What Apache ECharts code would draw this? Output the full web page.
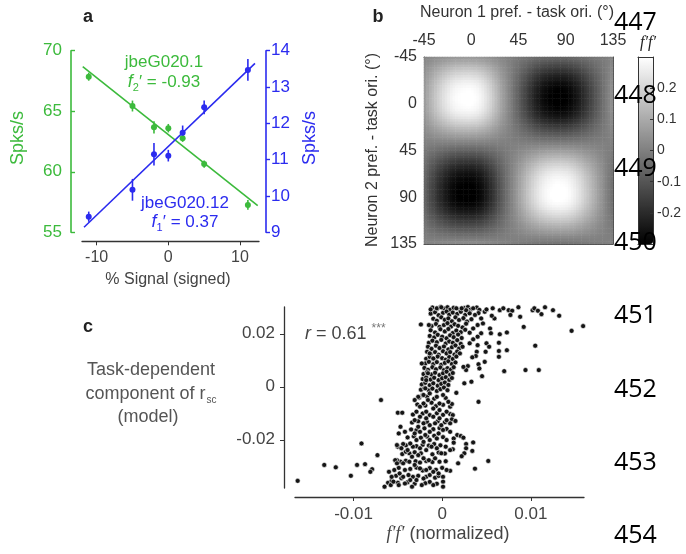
<!DOCTYPE html>
<html><head><meta charset="utf-8">
<script src="https://cdn.jsdelivr.net/npm/echarts@6/dist/echarts.min.js"></script>
<style>html,body{margin:0;padding:0;background:#fff}#c{width:686px;height:554px}</style>
</head><body><div id="c"></div>
<script>
// ---------- Panel a ----------
const signal = [-11.1, -5, -2, 0, 2, 5, 11.1];
const greenRate = [67.85, 65.43, 63.67, 63.6, 62.77, 60.64, 57.26];
const greenErr = [0.33, 0.45, 0.5, 0.35, 0.3, 0.3, 0.4];
const blueRate = [9.43, 10.17, 11.15, 11.11, 11.74, 12.44, 13.47];
const blueErr = [0.14, 0.3, 0.31, 0.16, 0.2, 0.19, 0.3];
const greenFit = [[-11.94, 68.68], [12.47, 57.2]];
const blueFit = [[-11.76, 9.14], [12.09, 13.65]];
const signalTicks = [-10, 0, 10];

// ---------- Panel b ----------
const cellCenters = [-43.75,-41.25,-38.75,-36.25,-33.75,-31.25,-28.75,-26.25,-23.75,-21.25,-18.75,-16.25,-13.75,-11.25,-8.75,-6.25,-3.75,-1.25,
  1.25,3.75,6.25,8.75,11.25,13.75,16.25,18.75,21.25,23.75,26.25,28.75,31.25,33.75,36.25,38.75,41.25,43.75,
  46.25,48.75,51.25,53.75,56.25,58.75,61.25,63.75,66.25,68.75,71.25,73.75,76.25,78.75,81.25,83.75,86.25,88.75,
  91.25,93.75,96.25,98.75,101.25,103.75,106.25,108.75,111.25,113.75,116.25,118.75,121.25,123.75,126.25,128.75,131.25,133.75];
// f' profile of each neuron read along the map (neuron 1 = columns, neuron 2 = rows)
const fPrime1 = [0.125,0.175,0.22,0.26,0.30,0.34,0.375,0.41,0.44,0.47,0.495,0.515,0.53,0.54,0.548,0.552,0.555,0.555,
  0.55,0.54,0.525,0.505,0.475,0.44,0.40,0.36,0.315,0.265,0.215,0.165,0.118,0.073,0.028,-0.018,-0.063,-0.108,
  -0.153,-0.198,-0.24,-0.285,-0.325,-0.365,-0.40,-0.435,-0.465,-0.49,-0.512,-0.528,-0.54,-0.55,-0.555,-0.555,-0.553,-0.548,
  -0.538,-0.522,-0.50,-0.473,-0.443,-0.41,-0.373,-0.335,-0.297,-0.26,-0.22,-0.18,-0.14,-0.10,-0.06,-0.02,0.02,0.06];
const fPrime2 = [0.12,0.16,0.20,0.25,0.29,0.33,0.37,0.405,0.44,0.47,0.495,0.515,0.53,0.54,0.548,0.553,0.553,0.548,
  0.54,0.53,0.515,0.49,0.465,0.43,0.39,0.35,0.305,0.26,0.218,0.173,0.128,0.083,0.038,-0.008,-0.053,-0.098,
  -0.143,-0.188,-0.23,-0.275,-0.315,-0.355,-0.39,-0.425,-0.455,-0.48,-0.502,-0.518,-0.53,-0.54,-0.548,-0.553,-0.555,-0.555,
  -0.55,-0.54,-0.523,-0.502,-0.473,-0.44,-0.403,-0.365,-0.325,-0.285,-0.243,-0.20,-0.16,-0.12,-0.08,-0.04,0.00,0.04];
const oriTicks = [-45, 0, 45, 90, 135];
const cbarTicks = [-0.2, -0.1, 0, 0.1, 0.2];

// ---------- Panel c ----------
const ffBand = [
 [-.0011,.0299],[-.0006,.0293],[-.0002,.0301],[.0002,.0295],[.0006,.0300],[.0009,.0291],[.0013,.0298],[.0018,.0302],[.0020,.0290],[.0025,.0297],[.0029,.0301],[.0032,.0291],[.0039,.0299],[.0042,.0290],
 [-.0013,.0276],[-.0008,.0281],[-.0004,.0270],[.0001,.0279],[.0005,.0284],[.0008,.0272],[.0012,.0280],[.0017,.0275],[.0021,.0283],[.0026,.0271],[.0030,.0282],[.0041,.0278],[.0048,.0283],
 [-.0010,.0257],[-.0006,.0249],[-.0001,.0262],[.0003,.0253],[.0007,.0258],[.0011,.0247],[.0015,.0262],[.0019,.0252],[.0024,.0259],[.0028,.0246],[.0033,.0255],
 [-.0012,.0229],[-.0007,.0237],[-.0003,.0226],[.0002,.0233],[.0006,.0240],[.0010,.0227],[.0014,.0236],[.0018,.0230],[.0023,.0224],[.0027,.0238],
 [-.0013,.0213],[-.0008,.0205],[-.0002,.0217],[.0003,.0209],[.0007,.0218],[.0012,.0203],[.0016,.0212],[.0021,.0206],[.0026,.0215],
 [-.0014,.0192],[-.0009,.0186],[-.0005,.0196],[.0000,.0189],[.0005,.0183],[.0009,.0194],[.0013,.0187],[.0018,.0197],[.0022,.0184],
 [-.0015,.0166],[-.0011,.0174],[-.0006,.0168],[-.0001,.0177],[.0004,.0163],[.0008,.0171],[.0012,.0166],[.0017,.0176],[.0021,.0162],
 [-.0016,.0151],[-.0012,.0143],[-.0007,.0155],[-.0003,.0146],[.0002,.0152],[.0007,.0141],[.0011,.0149],[.0015,.0156],[.0019,.0144],
 [-.0017,.0132],[-.0013,.0124],[-.0008,.0131],[-.0004,.0121],[.0001,.0134],[.0005,.0126],[.0009,.0131],[.0014,.0122],[.0017,.0133],
 [-.0018,.0106],[-.0014,.0113],[-.0009,.0104],[-.0005,.0114],[.0000,.0108],[.0004,.0102],[.0008,.0112],[.0012,.0105],[.0016,.0114],
 [-.0019,.0088],[-.0015,.0094],[-.0010,.0085],[-.0006,.0093],[-.0001,.0083],[.0003,.0090],[.0007,.0096],[.0011,.0086],[.0015,.0092],
 [-.0020,.0071],[-.0016,.0064],[-.0011,.0074],[-.0007,.0066],[-.0002,.0073],[.0002,.0063],[.0006,.0070],[.0010,.0065],[.0013,.0074],
 [-.0021,.0048],[-.0017,.0055],[-.0012,.0046],[-.0008,.0053],[-.0003,.0044],[.0001,.0051],[.0005,.0057],[.0009,.0045],[.0012,.0052],
 [-.0022,.0029],[-.0018,.0035],[-.0013,.0027],[-.0009,.0034],[-.0004,.0025],[.0000,.0032],[.0004,.0036],[.0008,.0026],[.0011,.0033],
 [-.0023,.0009],[-.0019,.0015],[-.0014,.0006],[-.0010,.0013],[-.0005,.0004],[-.0001,.0011],[.0003,.0016],[.0007,.0007],
 [-.0024,-.0011],[-.0020,-.0005],[-.0015,-.0014],[-.0011,-.0007],[-.0006,-.0016],[-.0002,-.0009],[.0002,-.0003],[.0006,-.0013],
 [-.0026,-.0041],[-.0017,-.0037],[-.0009,-.0045],[.0004,-.0042],
 [-.0028,-.0067],[-.0019,-.0071],[-.0012,-.0060],[-.0007,-.0073],[.0001,-.0068],[.0009,-.0075],
 [-.0033,-.0105],[-.0022,-.0101],[-.0014,-.0107],[-.0006,-.0100],[.0001,-.0106],[.0009,-.0103],
 [-.0034,-.0135],[-.0027,-.0130],[-.0017,-.0133],[-.0005,-.0130],[.0003,-.0134],
 [-.0035,-.0161],[-.0029,-.0164],[-.0020,-.0157],[-.0010,-.0160],[-.0003,-.0156],[.0005,-.0159],
 [-.0039,-.0191],[-.0032,-.0187],[-.0024,-.0192],[-.0017,-.0188],[-.0009,-.0185],[.0001,-.0190],
 [-.0041,-.0221],[-.0029,-.0224],[-.0022,-.0219],[-.0015,-.0222],[-.0009,-.0216],[-.0002,-.0221],[.0004,-.0226],
 [-.0045,-.0254],[-.0037,-.0251],[-.0031,-.0247],[-.0024,-.0251],[-.0011,-.0255],[-.0004,-.0248],[.0003,-.0252],
 [-.0047,-.0283],[-.0041,-.0279],[-.0030,-.0281],[-.0025,-.0286],[-.0018,-.0280],[-.0011,-.0284],[.0004,-.0281],
 [-.0049,-.0306],[-.0036,-.0310],[-.0029,-.0305],[-.0022,-.0316],[-.0014,-.0307],[-.0007,-.0313],[.0000,-.0306],
 [-.0052,-.0336],[-.0046,-.0345],[-.0033,-.0340],[-.0027,-.0336],[-.0018,-.0340],[-.0008,-.0343],[-.0004,-.0336],
 [-.0050,-.0362],[-.0039,-.0360],[-.0031,-.0366],[-.0019,-.0364],[-.0014,-.0359],[-.0006,-.0366]
];
const ffPoints = [
 [.0045,.0302],[.0050,.0292],[.0057,.0296],[.0065,.0289],[.0069,.0296],[.0075,.0289],[.0079,.0287],[.0086,.0300],[.0102,.0289],[.0104,.0296],[.0108,.0287],[.0112,.0274],[.0116,.0300],[.0125,.0289],[.0132,.0268],[.0088,.0264],[.0077,.0271],[.0059,.0258],[.0056,.0268],[.0092,.0226],[.0146,.0211],[.0159,.0229],[.0054,.0220],[.0055,.0202],[.0065,.0198],[.0073,.0205],[.0105,.0155],[.0064,.0166],[.0050,.0164],[.0053,.0151],[.0049,.0132],[.0064,.0135],[.0073,.0138],[.0040,.0157],[.0039,.0132],[.0038,.0116],[.0034,.0111],[.0048,.0094],[.0064,.0113],[.0041,.0085],[.0042,.0069],[.0045,.0040],[.0070,.0059],[.0094,.0063],[.0109,.0063],[.0033,.0019],[.0025,.0013],[.0016,-.0023],[.0029,.0078],[.0027,.0063],[.0024,.0075],[.0020,.0126],[.0023,.0151],[.0031,.0164],[.0035,.0179],[.0040,.0189],[.0044,.0202],[.0031,.0204],[.0035,.0220],[.0040,.0233],[.0046,.0239],[.0044,.0258],[.0037,.0271],[.0031,.0277],[.0027,.0289],[.0035,.0296],[.0022,.0296],[.0016,.0296],
 [-.0024,.0235],[-.0015,.0233],[-.0023,.0088],[-.0013,.0292],[-.0006,.0296],[-.0001,.0300],[-.0014,.0126],[-.0010,.0107],[-.0016,.0051],[-.0018,.0025],[-.0019,-.0006],[-.0022,-.0031],[-.0027,-.0038],
 [.0041,-.0057],[.0011,-.0065],[.0012,-.0107],[.0011,-.0123],[.0015,-.0129],[.0009,-.0138],[.0017,-.0182],[.0021,-.0186],[.0024,-.0192],[.0013,-.0195],[.0013,-.0211],[.0027,-.0216],[.0035,-.0210],[.0027,-.0232],[.0012,-.0236],[.0034,-.0242],[.0025,-.0251],[.0022,-.0262],[.0052,-.0280],[.0018,-.0289],[.0037,-.0309],[.0009,-.0317],
 [-.0069,-.0050],[-.0091,-.0214],[-.0073,-.0258],[-.0133,-.0295],[-.0120,-.0304],[-.0096,-.0295],[-.0087,-.0292],[-.0079,-.0311],[-.0081,-.0321],[-.0103,-.0336],[-.0163,-.0355],[-.0060,-.0321],[-.0061,-.0362],[-.0065,-.0377],[-.0057,-.0355],[-.0058,-.0371],[-.0050,-.0098],[-.0049,-.0176],[-.0050,-.0226],[-.0051,-.0277],
 [-.0045,-.0098],[-.0047,-.0151],[-.0042,-.0170],[-.0051,-.0220],[-.0044,-.0216],[-.0046,-.0232],[-.0041,-.0245],[-.0053,-.0277],[-.0051,-.0289],[-.0044,-.0289],[-.0054,-.0314],[-.0048,-.0327],[-.0042,-.0314],[-.0038,-.0333],[-.0044,-.0340],[-.0057,-.0340],[-.0055,-.0358],[-.0049,-.0371],[-.0042,-.0365],[-.0036,-.0352],[-.0034,-.0377],[-.0029,-.0352],[-.0023,-.0371],[-.0021,-.0346],[-.0010,-.0371],[-.0014,-.0333],[-.0031,-.0295],[-.0025,-.0308],[-.0018,-.0314],[-.0010,-.0321],[-.0004,-.0327],[.0001,-.0340],[.0001,-.0358],[.0001,-.0377],[.0005,-.0314],[-.0037,-.0283],[-.0034,-.0264],[-.0027,-.0258],[-.0021,-.0270],[-.0015,-.0277],[-.0008,-.0270],[-.0003,-.0283],[-.0039,-.0239],[-.0033,-.0226],[-.0025,-.0232],[-.0018,-.0239],[-.0012,-.0226],[-.0006,-.0232],[-.0001,-.0251],[.0009,-.0239],[-.0036,-.0214],[-.0029,-.0201],[-.0021,-.0208],[-.0014,-.0201],[-.0006,-.0195],[.0005,-.0201],[-.0031,-.0176],[-.0025,-.0170],[-.0019,-.0182],[-.0014,-.0170],[-.0004,-.0176],[.0001,-.0163],[.0009,-.0170],[-.0027,-.0151],[-.0021,-.0138],[-.0014,-.0145],[-.0008,-.0138],[-.0001,-.0145],[-.0031,-.0126],[-.0025,-.0113],[-.0018,-.0119],[-.0010,-.0113],[-.0003,-.0119],[.0005,-.0126],[-.0025,-.0075],[-.0021,-.0063],[-.0016,-.0050],[-.0029,-.0094],[-.0018,-.0094],[-.0010,-.0082],[-.0003,-.0088],[.0005,-.0094],[-.0031,-.0050],[-.0021,-.0031],[-.0014,-.0025],[-.0006,-.0038],[.0001,-.0031],[.0007,-.0057],[-.0003,-.0063]
];
const ffTicks = [-0.01, 0, 0.01];
const rscTicks = [-0.02, 0, 0.02];
const lineNumbers = ['447','448','449','450','451','452','453','454'];

// ---------- build ----------
const GREEN = '#3cba3c', BLUE = '#2b2bef', FONT = 'Liberation Sans';
const heatData = [];
for (let i = 0; i < cellCenters.length; i++)
  for (let j = 0; j < cellCenters.length; j++)
    heatData.push([i, j, +(fPrime1[i] * fPrime2[j]).toFixed(4)]);
const scatterData = ffBand.concat(ffPoints);

function errSeries(yArr, eArr, color, yIdx) {
  return {
    type: 'custom', xAxisIndex: 0, yAxisIndex: yIdx, silent: true, z: 3,
    data: signal.map((x, i) => [x, yArr[i] - eArr[i], yArr[i] + eArr[i]]),
    encode: { x: 0, y: [1, 2] },
    renderItem: (p, api) => {
      const a = api.coord([api.value(0), api.value(1)]);
      const b = api.coord([api.value(0), api.value(2)]);
      return { type: 'line', shape: { x1: a[0], y1: a[1], x2: b[0], y2: b[1] }, style: { stroke: color, lineWidth: 1.6 } };
    }
  };
}
const noSplit = { show: false };
function frameAxis(grid, pos, extra) {
  return Object.assign({ gridIndex: grid, type: 'value', min: 0, max: 1, position: pos,
    axisLine: { show: true, onZero: false, lineStyle: { color: '#333', width: 1 } },
    axisTick: { show: false }, axisLabel: { show: false }, splitLine: noSplit }, extra || {});
}
function txt(x, y, text, font, fill, extra) {
  return Object.assign({ type: 'text', x: x, y: y, z: 50,
    style: { text: text, font: font, fill: fill, textAlign: 'center', textVerticalAlign: 'middle', align: 'center', verticalAlign: 'middle' } },
    extra && extra.rotation !== undefined ? { rotation: extra.rotation } : {});
}

const option = {
  animation: false,
  backgroundColor: '#fff',
  textStyle: { fontFamily: FONT },
  grid: [
    { left: 82, top: 50.7, width: 177, height: 181.6 },
    { left: 424, top: 57, width: 189, height: 187 },
    { left: 638, top: 57, width: 15, height: 187 },
    { left: 295, top: 307, width: 289, height: 181 }
  ],
  xAxis: [
    { gridIndex: 0, type: 'value', min: -12.04, max: 12.65, offset: 9,
      axisLine: { onZero: false, lineStyle: { color: '#333', width: 1.3 } },
      axisTick: { customValues: signalTicks, length: 4, lineStyle: { color: '#333' } },
      axisLabel: { customValues: signalTicks, fontSize: 16, color: '#444', margin: 8, fontFamily: FONT },
      splitLine: noSplit },
    { gridIndex: 1, type: 'category', data: cellCenters, position: 'bottom',
      axisLine: { show: true, onZero: false, lineStyle: { color: '#444' } }, axisTick: { show: false }, axisLabel: { show: false } },
    { gridIndex: 1, type: 'value', min: -45, max: 135, interval: 45, position: 'top',
      axisLine: { show: true, onZero: false, lineStyle: { color: '#444' } },
      axisTick: { inside: true, length: 3, lineStyle: { color: '#444' } },
      axisLabel: { fontSize: 16, color: '#333', margin: 8, fontFamily: FONT }, splitLine: noSplit },
    frameAxis(2, 'bottom', { z: 10 }),
    frameAxis(2, 'top', { z: 10 }),
    { gridIndex: 3, type: 'value', min: -0.0166, max: 0.016, offset: 9,
      axisLine: { onZero: false, lineStyle: { color: '#333', width: 1.3 } },
      axisTick: { customValues: ffTicks, length: 4, lineStyle: { color: '#333' } },
      axisLabel: { customValues: ffTicks, fontSize: 17, color: '#444', margin: 9, fontFamily: FONT },
      splitLine: noSplit }
  ],
  yAxis: [
    { gridIndex: 0, type: 'value', min: 55, max: 70, interval: 5, position: 'left', offset: 11,
      axisLine: { show: true, onZero: false, lineStyle: { color: GREEN, width: 1.6 } },
      axisTick: { show: true, inside: true, length: 4, lineStyle: { color: GREEN, width: 1.4 } },
      axisLabel: { color: GREEN, fontSize: 17, margin: 9, fontFamily: FONT }, splitLine: noSplit },
    { gridIndex: 0, type: 'value', min: 9, max: 14, interval: 1, position: 'right', offset: 7,
      axisLine: { show: true, onZero: false, lineStyle: { color: BLUE, width: 1.6 } },
      axisTick: { show: true, length: 4, lineStyle: { color: BLUE, width: 1.4 } },
      axisLabel: { color: BLUE, fontSize: 17, margin: 5, fontFamily: FONT }, splitLine: noSplit },
    { gridIndex: 1, type: 'category', data: cellCenters, inverse: true, position: 'right',
      axisLine: { show: true, onZero: false, lineStyle: { color: '#444' } }, axisTick: { show: false }, axisLabel: { show: false } },
    { gridIndex: 1, type: 'value', min: -45, max: 135, interval: 45, inverse: true, position: 'left',
      axisLine: { show: true, onZero: false, lineStyle: { color: '#444' } },
      axisTick: { inside: true, length: 3, lineStyle: { color: '#444' } },
      axisLabel: { fontSize: 16, color: '#333', margin: 7, fontFamily: FONT }, splitLine: noSplit },
    { gridIndex: 2, type: 'value', min: -0.3, max: 0.3, position: 'right', z: 10,
      axisLine: { show: true, onZero: false, lineStyle: { color: '#333' } },
      axisTick: { inside: true, length: 3, customValues: cbarTicks, lineStyle: { color: '#333' } },
      axisLabel: { customValues: cbarTicks, fontSize: 14, color: '#333', margin: 4, padding: [7, 0, 0, 0], fontFamily: FONT }, splitLine: noSplit },
    frameAxis(2, 'left', { z: 10 }),
    { gridIndex: 3, type: 'value', min: -0.0382, max: 0.0301, position: 'left', offset: 11,
      axisLine: { show: true, onZero: false, lineStyle: { color: '#333', width: 1.3 } },
      axisTick: { show: true, customValues: rscTicks, length: 4, lineStyle: { color: '#333' } },
      axisLabel: { customValues: rscTicks, fontSize: 17, color: '#444', margin: 9, fontFamily: FONT }, splitLine: noSplit }
  ],
  visualMap: {
    type: 'continuous', seriesIndex: 0, min: -0.3, max: 0.3, calculable: false,
    inRange: { color: ['#000000', '#ffffff'] }, orient: 'vertical',
    left: 638, top: 57, itemWidth: 15, itemHeight: 187, padding: 0, text: null, show: true, hoverLink: false
  },
  series: [
    { type: 'heatmap', xAxisIndex: 1, yAxisIndex: 2, data: heatData, emphasis: { disabled: true }, silent: true },
    { type: 'line', xAxisIndex: 0, yAxisIndex: 0, data: greenFit, showSymbol: false, lineStyle: { color: GREEN, width: 1.6 }, z: 2, silent: true },
    { type: 'line', xAxisIndex: 0, yAxisIndex: 1, data: blueFit, showSymbol: false, lineStyle: { color: BLUE, width: 1.6 }, z: 2, silent: true },
    errSeries(greenRate, greenErr, GREEN, 0),
    errSeries(blueRate, blueErr, BLUE, 1),
    { type: 'scatter', xAxisIndex: 0, yAxisIndex: 0, data: signal.map((x, i) => [x, greenRate[i]]), symbolSize: 6, itemStyle: { color: GREEN, opacity: 1 }, z: 4, silent: true },
    { type: 'scatter', xAxisIndex: 0, yAxisIndex: 1, data: signal.map((x, i) => [x, blueRate[i]]), symbolSize: 6, itemStyle: { color: BLUE, opacity: 1 }, z: 4, silent: true },
    { type: 'scatter', xAxisIndex: 5, yAxisIndex: 6, data: scatterData, symbolSize: 5, silent: true,
      itemStyle: { color: '#151515', borderColor: 'rgba(255,255,255,0.85)', borderWidth: 0.7, opacity: 1 } }
  ],
  graphic: [
    txt(88, 17, 'a', 'bold 18px ' + FONT, '#222'),
    txt(378, 17, 'b', 'bold 18px ' + FONT, '#222'),
    txt(88, 327, 'c', 'bold 18px ' + FONT, '#222'),
    txt(18.5, 138, 'Spks/s', '18px ' + FONT, GREEN, { rotation: Math.PI / 2 }),
    txt(310, 138, 'Spks/s', '18px ' + FONT, BLUE, { rotation: Math.PI / 2 }),
    txt(168, 280, '% Signal (signed)', '16px ' + FONT, '#444'),
    txt(164, 62, 'jbeG020.1', '17px ' + FONT, GREEN),
    { type: 'text', x: 164, y: 82, z: 50, style: { text: '{i|f}{s|2}{n|\u2032 = -0.93}', textAlign: 'center', textVerticalAlign: 'middle', align: 'center', verticalAlign: 'middle',
      rich: { i: { font: 'italic 18px ' + FONT, fill: GREEN, color: GREEN, lineHeight: 22 }, s: { font: '11px ' + FONT, fill: GREEN, color: GREEN, lineHeight: 22, verticalAlign: 'bottom', padding: [9, 0, 0, 0] }, n: { font: '17px ' + FONT, fill: GREEN, color: GREEN, lineHeight: 22 } } } },
    txt(185, 203, 'jbeG020.12', '17px ' + FONT, BLUE),
    { type: 'text', x: 185, y: 222, z: 50, style: { text: '{i|f}{s|1}{n|\u2032 = 0.37}', textAlign: 'center', textVerticalAlign: 'middle', align: 'center', verticalAlign: 'middle',
      rich: { i: { font: 'italic 18px ' + FONT, fill: BLUE, color: BLUE, lineHeight: 22 }, s: { font: '11px ' + FONT, fill: BLUE, color: BLUE, lineHeight: 22, verticalAlign: 'bottom', padding: [9, 0, 0, 0] }, n: { font: '17px ' + FONT, fill: BLUE, color: BLUE, lineHeight: 22 } } } },
    txt(517, 13, 'Neuron 1 pref. - task ori. (\u00b0)', '16px ' + FONT, '#333'),
    txt(373, 150, 'Neuron 2 pref. - task ori. (\u00b0)', '16px ' + FONT, '#333', { rotation: Math.PI / 2 }),
    txt(648, 43, "f\u2032f\u2032", 'italic 16px Liberation Serif', '#222'),
    txt(151, 370.5, 'Task-dependent', '18px ' + FONT, '#555'),
    { type: 'text', x: 151, y: 394, z: 50, style: { text: '{n|component of r}{s|sc}', textAlign: 'center', textVerticalAlign: 'middle', align: 'center', verticalAlign: 'middle',
      rich: { n: { font: '18px ' + FONT, fill: '#555', color: '#555', lineHeight: 22 }, s: { font: '10px ' + FONT, fill: '#555', color: '#555', lineHeight: 22, verticalAlign: 'bottom', padding: [10, 0, 0, 1] } } } },
    txt(148, 417, '(model)', '18px ' + FONT, '#555'),
    { type: 'text', x: 305, y: 334, z: 50, style: { text: '{i|r}{n| = 0.61 }{s|***}', textAlign: 'left', textVerticalAlign: 'middle', align: 'left', verticalAlign: 'middle',
      rich: { i: { font: 'italic 18px ' + FONT, fill: '#444', color: '#444', lineHeight: 22 }, n: { font: '18px ' + FONT, fill: '#444', color: '#444', lineHeight: 22 }, s: { font: '12px ' + FONT, fill: '#777', color: '#777', lineHeight: 22, verticalAlign: 'top', padding: [0, 0, 8, 0] } } } },
    { type: 'text', x: 448, y: 534, z: 50, style: { text: '{i|f\u2032f\u2032}{n| (normalized)}', textAlign: 'center', textVerticalAlign: 'middle', align: 'center', verticalAlign: 'middle',
      rich: { i: { font: 'italic 18px Liberation Serif', fill: '#444', color: '#444' }, n: { font: '18px ' + FONT, fill: '#444', color: '#444' } } } }
  ].concat(lineNumbers.map((t, k) => ({ type: 'text', x: 614, y: 22.5 + 73.4 * k, z: 60,
      style: { text: t, font: '25px Open Sans', fill: '#000', textAlign: 'left', textVerticalAlign: 'middle', align: 'left', verticalAlign: 'middle' } })))
};
const chart = echarts.init(document.getElementById('c'));
chart.setOption(option);
</script></body></html>
